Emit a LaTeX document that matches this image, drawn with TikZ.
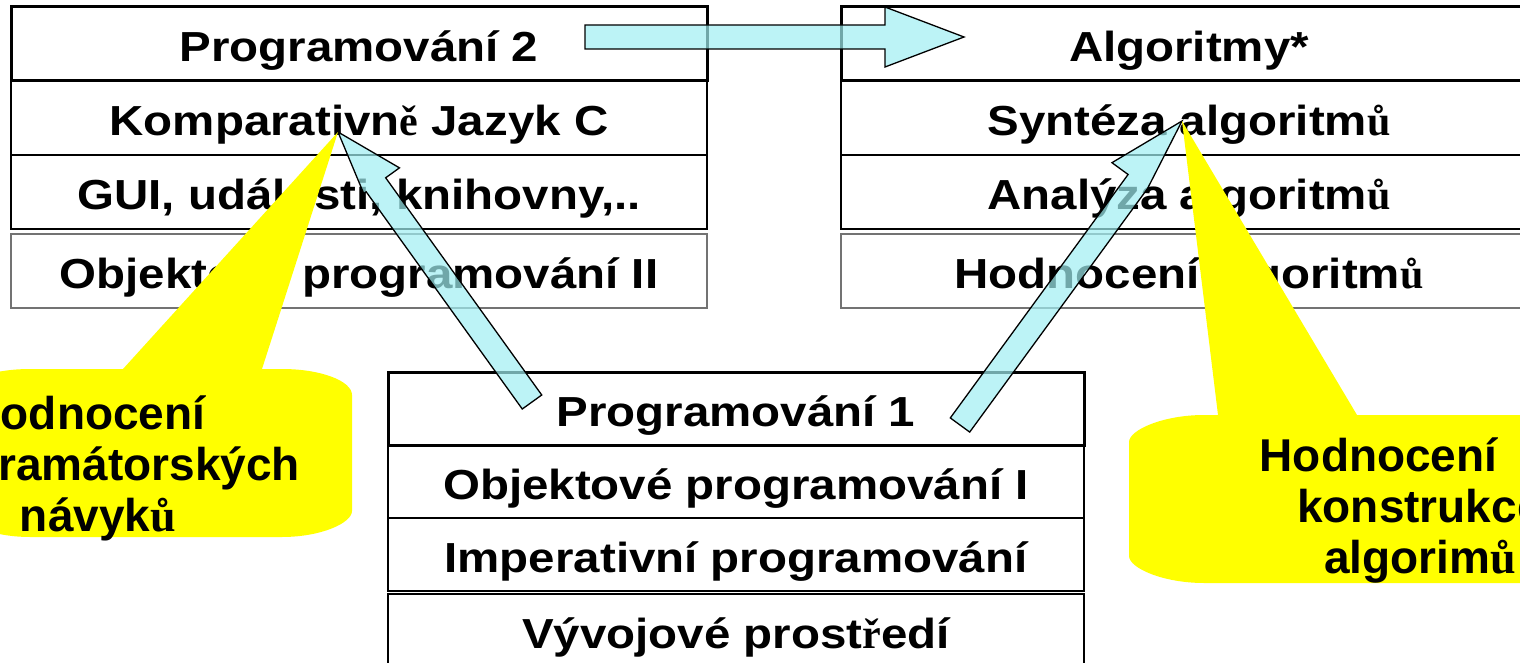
\documentclass[tikz,border=0pt]{standalone}
\usepackage{fontspec}
\usepackage{tikz}
\usetikzlibrary{positioning,calc}

\newfontfamily\boxfont[FakeStretch=1.13]{Liberation Sans}
\newfontfamily\callfont{Liberation Sans}
\newfontfamily\serifglyph{Liberation Serif}
\newcommand{\sch}[1]{{\serifglyph #1}}
\definecolor{arrowcyan}{RGB}{160,238,242}
\definecolor{callyellow}{RGB}{255,255,0}

% block arrow: tail, tip, head length, left barb, right barb
\newcommand{\blockarrow}[5]{%
  \path ($(#2)!#3!(#1)$) coordinate (hb);
  \filldraw[block arrow] ($(#1)!12pt!90:(#2)$) -- ($(hb)!12pt!90:(#2)$)
    -- ($(hb)!#4!90:(#2)$) -- (#2) -- ($(hb)!#5!-90:(#2)$)
    -- ($(hb)!12pt!-90:(#2)$) -- ($(#1)!12pt!-90:(#2)$) -- cycle;}

\begin{document}
\begin{tikzpicture}[x=1pt,y=-1pt,node distance=0pt,line join=miter]
  \tikzstyle{row}=[draw,minimum width=696pt,minimum height=74pt,inner sep=0pt,
                   outer sep=0pt,text height=35pt,text depth=0pt,
                   font=\boxfont\bfseries\fontsize{42}{48}\selectfont]
  \tikzstyle{head}=[row,line width=3pt]
  \tikzstyle{mid}=[row,line width=1.8pt]
  \tikzstyle{last}=[row,line width=1.4pt,draw=black!55]
  \tikzstyle{block arrow}=[fill=arrowcyan,fill opacity=0.7,draw=black,line width=1.3pt]
  \tikzstyle{callout}=[fill=callyellow]
  \tikzstyle{callout text}=[font=\callfont\bfseries\fontsize{46}{51}\selectfont,
                            align=center,inner sep=0pt,anchor=north]

  \useasboundingbox (0,0) rectangle (1520,663);
  \clip (0,0) rectangle (1520,663);

  \node[head] (prog2)                 at (359,44) {Programování 2};
  \node[mid]  (komp) [below=of prog2]             {Komparativn\sch{ě} Jazyk C};
  \node[mid]  (gui)  [below=of komp]              {GUI, události, knihovny,..};
  \node[last] (oop2) [below=5pt of gui]           {Objektové programování II};

  \node[head] (alg)                   at (1189,44) {Algoritmy*};
  \node[mid]  (synt) [below=of alg]               {Syntéza algoritm\sch{ů}};
  \node[mid]  (anal) [below=of synt]              {Analýza algoritm\sch{ů}};
  \node[last] (hodn) [below=5pt of anal]          {Hodnocení algoritm\sch{ů}};

  \node[head,minimum height=73pt] (prog1) at (736,408.5) {Programování 1};
  \node[mid,minimum height=73pt] (oop1) [below=of prog1] {Objektové programování I};
  \node[mid,minimum height=73pt] (imp)  [below=of oop1]  {Imperativní programování};
  \node[mid,minimum height=73pt,line width=2.4pt] (ide) [below=3pt of imp] {Vývojové prost\sch{ř}edí};

  \coordinate (p2tail)  at (585,37);   % in Programovani 2
  \coordinate (algtip)  at (964,37);   % in Algoritmy
  \coordinate (p1left)  at (532,402);
  \coordinate (komptip) at (338,132);
  \coordinate (p1right) at (960,425);
  \coordinate (synttip) at (1182,121);

  \blockarrow{p2tail}{algtip}{79pt}{30pt}{30pt}
  \blockarrow{p1left}{komptip}{65pt}{15pt}{29pt}
  \blockarrow{p1right}{synttip}{75pt}{32pt}{12pt}

  % callouts
  \fill[callout] (123,369) -- (komptip) -- (262,369) -- (282,369)
    .. controls (321,369) and (352,381) .. (352,395) -- (352,511)
    .. controls (352,523) and (321,537) .. (282,537) -- (30,537)
    .. controls (-9,537) and (-40,523) .. (-40,511) -- (-40,395)
    .. controls (-40,381) and (-9,369) .. (30,369) -- cycle;
  \fill[callout] (1218,415) -- (synttip) -- (1357,415) -- (1565,415)
    .. controls (1606,415) and (1640,430) .. (1640,442) -- (1640,556)
    .. controls (1640,568) and (1606,583) .. (1565,583) -- (1204,583)
    .. controls (1163,583) and (1129,568) .. (1129,556) -- (1129,442)
    .. controls (1129,430) and (1163,415) .. (1204,415) -- cycle;

  \node[callout text] (lnote) at (98,396)
    {Hodnocení\hspace*{0.5em}\\programátorských\\návyk\sch{ů}};
  \node[callout text] (rnote) at (1420,438)
    {Hodnocení\hspace*{1.8em}\\konstrukce\\algorim\sch{ů}};
\end{tikzpicture}
\end{document}
